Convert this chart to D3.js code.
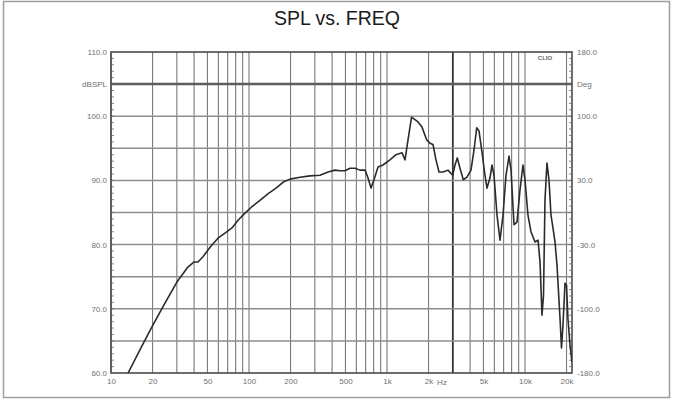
<!DOCTYPE html>
<html>
<head>
<meta charset="utf-8">
<script src="https://cdn.jsdelivr.net/npm/d3@7/dist/d3.min.js"></script>
<style>
  body { margin: 0; background: #fff; }
  svg { display: block; font-family: "Liberation Sans", Arial, sans-serif; }
  .lbl text { fill: #707070; font-size: 8px; }
</style>
</head>
<body>
<div id="chart-area"></div>
<script>
// SPL curve
var freqHz = [13.3, 16.2, 19.8, 24.6, 30.1, 36.1, 40, 42.7, 46.4, 52.2, 59.6, 67, 75.3, 83.3, 93.5,
  105, 120, 137, 157, 179, 198, 234, 277, 327, 374, 420, 456, 496, 540, 586, 637, 693, 728, 766, 805,
  861, 935, 1051, 1162, 1285, 1351, 1420, 1505, 1569, 1677, 1793, 1940, 2049, 2154, 2265, 2382, 2546,
  2767, 2993, 3110, 3232, 3381, 3572, 3799, 4062, 4270, 4467, 4642, 4880, 5130, 5304, 5577, 5767, 5963,
  6270, 6591, 6929, 7285, 7659, 7918, 8325, 8750, 9200, 9671, 10000, 10510, 11050, 11820, 12430, 12850,
  13280, 13620, 13960, 14430, 14920, 15430, 15950, 16500, 17060, 17930, 18390, 18850, 19500, 19990,
  20500, 21190, 21910];
var splDb = [60.0, 63.6, 67.2, 70.9, 74.2, 76.5, 77.3, 77.3, 78.1, 79.6, 81.0, 81.8, 82.6, 83.8, 84.9,
  85.9, 86.9, 87.9, 88.8, 89.8, 90.2, 90.5, 90.7, 90.8, 91.3, 91.6, 91.5, 91.5, 91.9, 91.9, 91.6, 91.6, 90.4, 88.8, 90.1,
  92.1, 92.4, 93.2, 94.0, 94.3, 93.2, 96.3, 99.8, 99.6, 99.1, 98.3, 96.3, 95.8, 95.6, 93.2, 91.3, 91.3,
  91.6, 90.8, 92.4, 93.5, 91.9, 90.1, 90.5, 91.6, 94.7, 98.2, 97.7, 94.4, 90.8, 88.8, 90.4, 92.4, 90.8,
  84.6, 80.7, 84.6, 90.8, 93.8, 91.6, 83.1, 83.5, 88.5, 92.4, 90.1, 84.6, 82.0, 80.4, 80.7, 77.3,
  69.0, 72.1, 86.9, 92.7, 90.1, 84.6, 82.6, 80.4, 76.8, 68.6, 63.9, 67.5, 74.0, 73.7,
  68.3, 64.4, 61.7];

var xTicks = [10, 20, 50, 100, 200, 500, 1000, 2000, 5000, 10000, 20000];
var xTickLabels = ["10", "20", "50", "100", "200", "500", "1k", "2k", "5k", "10k", "20k"];
var yTicks = [60, 70, 80, 90, 100, 105, 110];
var leftLabels = ["60.0", "70.0", "80.0", "90.0", "100.0", "dBSPL", "110.0"];
var rightLabels = ["-180.0", "-100.0", "-30.0", "30.0", "100.0", "Deg", "180.0"];

var W = 673, H = 402;
var pLeft = 111, pRight = 572, pTop = 52, pBottom = 373;

var svg = d3.select("#chart-area").append("svg")
  .attr("width", W).attr("height", H);

svg.append("rect")
  .attr("x", 3.5).attr("y", 1.5).attr("width", 666).attr("height", 396)
  .attr("fill", "none").attr("stroke", "#a39d99").attr("stroke-width", 1.5);

svg.append("text")
  .attr("x", 337).attr("y", 25)
  .attr("text-anchor", "middle")
  .attr("font-size", 19.5).attr("fill", "#1a1a1a")
  .text("SPL vs. FREQ");

var x = d3.scaleLog().domain([10, 21910]).range([pLeft, pRight]);
var y = d3.scaleLinear().domain([60, 110]).range([pBottom, pTop]);

// grid
var vLines = [];
[10, 100, 1000].forEach(function (dec) {
  for (var k = 1; k < 10; k++) vLines.push(dec * k);
});
vLines.push(10000, 20000);

var grid = svg.append("g");
grid.selectAll(".vg").data(vLines).enter().append("line")
  .attr("x1", d => x(d)).attr("x2", d => x(d))
  .attr("y1", pTop).attr("y2", pBottom)
  .attr("stroke", d => d === 3000 ? "#333" : "#7a7a7a")
  .attr("stroke-width", d => d === 3000 ? 1.8 : 1.1);

grid.selectAll(".hg").data(d3.range(65, 110, 5)).enter().append("line")
  .attr("x1", pLeft).attr("x2", pRight)
  .attr("y1", d => y(d)).attr("y2", d => y(d))
  .attr("stroke", d => d === 105 ? "#5e5e5e" : "#8e8e8e")
  .attr("stroke-width", d => d === 105 ? 2.5 : 1.5);

// frame
svg.append("rect")
  .attr("x", pLeft).attr("y", pTop)
  .attr("width", pRight - pLeft).attr("height", pBottom - pTop)
  .attr("fill", "none").attr("stroke", "#4a4a4a").attr("stroke-width", 1.6);

// minor ticks inside frame
var minor = d3.range(60, 111, 1);
svg.append("g").selectAll("line").data(minor).enter().append("line")
  .attr("x1", pLeft).attr("x2", pLeft + 3)
  .attr("y1", d => y(d)).attr("y2", d => y(d))
  .attr("stroke", "#666").attr("stroke-width", 0.8);
svg.append("g").selectAll("line").data(minor).enter().append("line")
  .attr("x1", pRight - 3).attr("x2", pRight)
  .attr("y1", d => y(d)).attr("y2", d => y(d))
  .attr("stroke", "#666").attr("stroke-width", 0.8);

// axes labels
var xAxis = d3.axisBottom(x).tickValues(xTicks).tickSize(0).tickPadding(5)
  .tickFormat((d, i) => xTickLabels[i]);
svg.append("g").attr("class", "lbl")
  .attr("transform", "translate(0," + pBottom + ")")
  .call(xAxis).call(g => g.select(".domain").remove());

svg.append("text").attr("x", 442).attr("y", 385)
  .attr("text-anchor", "middle").attr("font-size", 8).attr("fill", "#707070").text("Hz");

var yLeft = d3.axisLeft(y).tickValues(yTicks).tickSize(0).tickPadding(4)
  .tickFormat((d, i) => leftLabels[i]);
svg.append("g").attr("class", "lbl")
  .attr("transform", "translate(" + pLeft + ",0)")
  .call(yLeft).call(g => g.select(".domain").remove());

var yRight = d3.axisRight(y).tickValues(yTicks).tickSize(0).tickPadding(5)
  .tickFormat((d, i) => rightLabels[i]);
svg.append("g").attr("class", "lbl")
  .attr("transform", "translate(" + pRight + ",0)")
  .call(yRight).call(g => g.select(".domain").remove());

svg.append("text").attr("x", 545).attr("y", 60)
  .attr("text-anchor", "middle").attr("font-size", 6).attr("font-weight", "bold")
  .attr("fill", "#666").text("CLIO");

// curve
svg.append("clipPath").attr("id", "clip").append("rect")
  .attr("x", pLeft).attr("y", pTop).attr("width", pRight - pLeft).attr("height", pBottom - pTop);

var pts = freqHz.map((f, i) => [f, splDb[i]]);
var line = d3.line().x(d => x(d[0])).y(d => y(d[1]));
svg.append("path").datum(pts)
  .attr("clip-path", "url(#clip)")
  .attr("d", line)
  .attr("fill", "none").attr("stroke", "#2b2b2b").attr("stroke-width", 1.6)
  .attr("stroke-linejoin", "round");
</script>
</body>
</html>
